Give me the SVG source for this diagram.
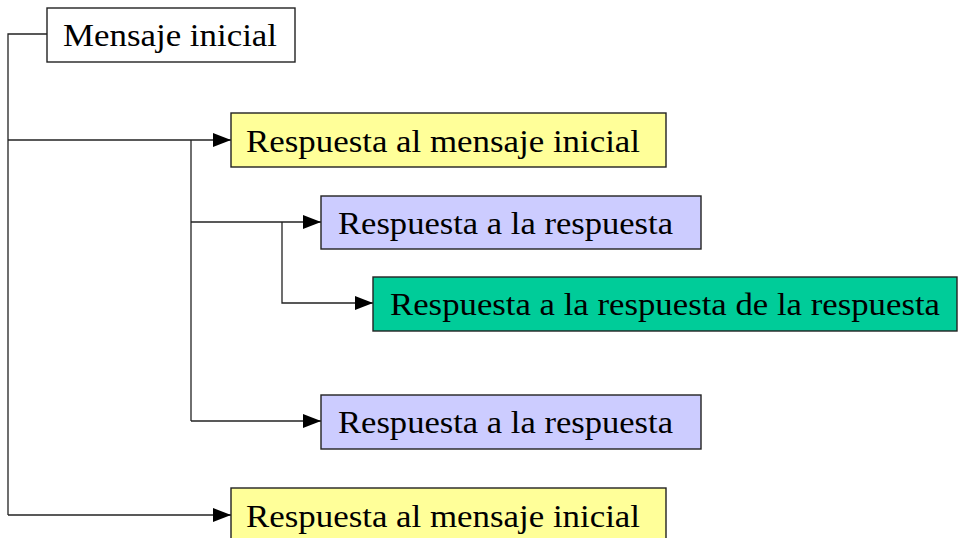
<svg xmlns="http://www.w3.org/2000/svg" width="958" height="538" viewBox="0 0 958 538">
<style>
.box{stroke:#222;stroke-width:1.4}
.t{font-family:"Liberation Serif","Times New Roman",serif;font-size:32px;fill:#000}
.c{fill:none;stroke:#222;stroke-width:1.3}
</style>
<defs>
<marker id="ah" markerWidth="18" markerHeight="14" refX="18" refY="7" orient="auto" markerUnits="userSpaceOnUse">
<path d="M0,0 L18,7 L0,14 Z" fill="#000"/>
</marker>
</defs>
<rect width="958" height="538" fill="#fff"/>
<g id="connectors">
<path class="c" d="M47,34 H8 V515"/>
<path class="c" d="M8,140 H231" marker-end="url(#ah)"/>
<path class="c" d="M191,140 V421"/>
<path class="c" d="M191,222 H321" marker-end="url(#ah)"/>
<path class="c" d="M282,222 V303 H373" marker-end="url(#ah)"/>
<path class="c" d="M191,421 H321" marker-end="url(#ah)"/>
<path class="c" d="M8,515 H231" marker-end="url(#ah)"/>
</g>
<g id="n1">
<rect class="box" x="47" y="8" width="248" height="54" fill="#fff"/>
<text class="t" x="63" y="46" textLength="214" lengthAdjust="spacingAndGlyphs">Mensaje inicial</text>
</g>
<g id="n2">
<rect class="box" x="231" y="113" width="435" height="54" fill="#ffff99"/>
<text class="t" x="246" y="152" textLength="394" lengthAdjust="spacingAndGlyphs">Respuesta al mensaje inicial</text>
</g>
<g id="n3">
<rect class="box" x="321" y="196" width="380" height="53" fill="#ccccff"/>
<text class="t" x="338" y="234" textLength="335" lengthAdjust="spacingAndGlyphs">Respuesta a la respuesta</text>
</g>
<g id="n4">
<rect class="box" x="373" y="277" width="584" height="54" fill="#00cc99"/>
<text class="t" x="390" y="315" textLength="550" lengthAdjust="spacingAndGlyphs">Respuesta a la respuesta de la respuesta</text>
</g>
<g id="n5">
<rect class="box" x="321" y="395" width="380" height="54" fill="#ccccff"/>
<text class="t" x="338" y="433" textLength="335" lengthAdjust="spacingAndGlyphs">Respuesta a la respuesta</text>
</g>
<g id="n6">
<rect class="box" x="231" y="488" width="435" height="54" fill="#ffff99"/>
<text class="t" x="246" y="527" textLength="394" lengthAdjust="spacingAndGlyphs">Respuesta al mensaje inicial</text>
</g>
</svg>
